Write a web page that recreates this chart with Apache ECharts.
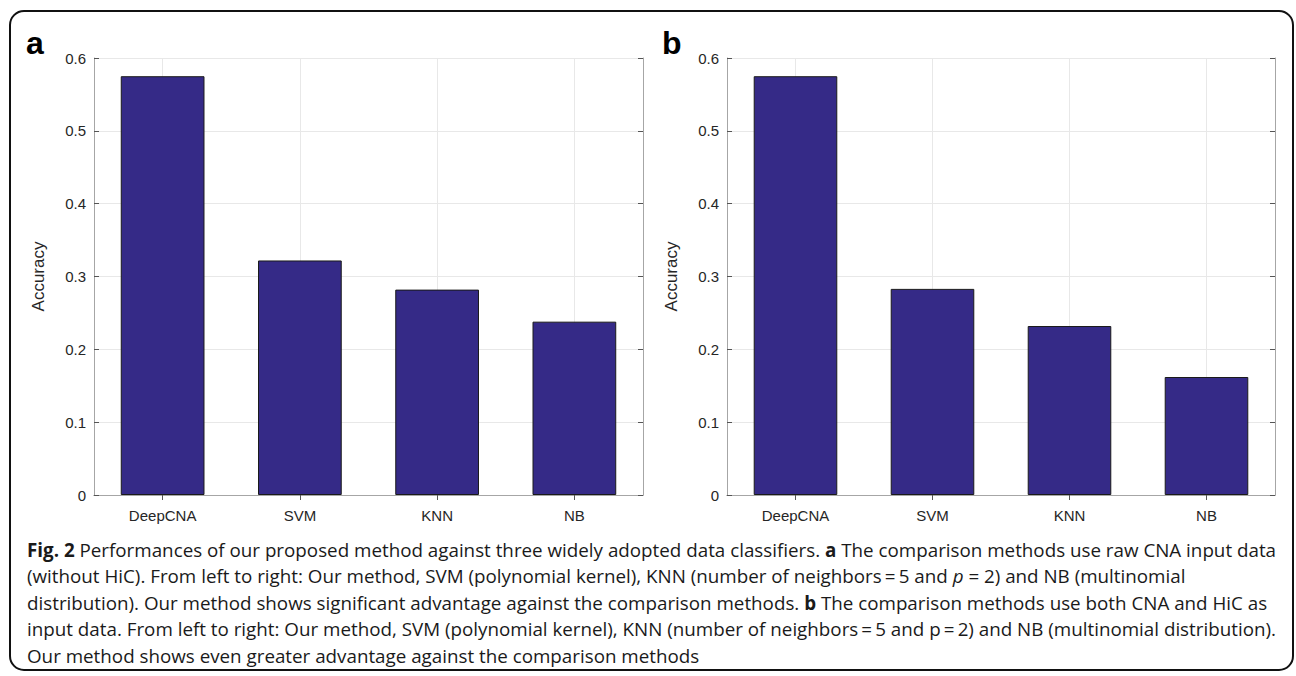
<!DOCTYPE html>
<html>
<head>
<meta charset="utf-8">
<script src="https://cdn.jsdelivr.net/npm/echarts@6/dist/echarts.min.js"></script>
<style>
html,body{margin:0;padding:0;background:#fff;}
#chart{width:1296px;height:676px;}
</style>
</head>
<body>
<div id="chart"></div>
<script>
const categories = ['DeepCNA', 'SVM', 'KNN', 'NB'];
const accuracyA = [0.575, 0.322, 0.282, 0.238];
const accuracyB = [0.575, 0.283, 0.232, 0.162];
const yMin = 0, yMax = 0.6, yInterval = 0.1;
const panelLabels = ['a', 'b'];
const yAxisTitle = 'Accuracy';
const captionLines = [
  '{b|Fig. 2} Performances of our proposed method against three widely adopted data classifiers. {b|a} The comparison methods use raw CNA input data',
  '(without HiC). From left to right: Our method, SVM (polynomial kernel), KNN (number of neighbors\u2009=\u20095 and {i|p} = 2) and NB (multinomial',
  'distribution). Our method shows significant advantage against the comparison methods. {b|b} The comparison methods use both CNA and HiC as',
  'input data. From left to right: Our method, SVM (polynomial kernel), KNN (number of neighbors\u2009=\u20095 and p\u2009=\u20092) and NB (multinomial distribution).',
  'Our method shows even greater advantage against the comparison methods'
];

const AXIS = '#a6a6a6';
const GRIDC = '#e8e8e8';
const TXT = '#262626';
const FONT = '"Liberation Sans", Arial, sans-serif';
const grids = [
  {left: 94, top: 58, width: 549, height: 437},
  {left: 727, top: 58, width: 548, height: 437}
];

const xAxes = [], yAxes = [], series = [];
[accuracyA, accuracyB].forEach((vals, g) => {
  xAxes.push({
    type: 'category', gridIndex: g, data: categories, position: 'bottom',
    axisLine: {show: true, lineStyle: {color: AXIS, width: 1}},
    axisTick: {show: true, inside: true, alignWithLabel: true, length: 5, lineStyle: {color: '#555'}},
    axisLabel: {color: TXT, fontSize: 15, fontFamily: FONT, margin: 13},
    splitLine: {show: true, alignWithLabel: true, lineStyle: {color: GRIDC, width: 1}}
  });
  xAxes.push({
    type: 'category', gridIndex: g, data: categories, position: 'top',
    axisLine: {show: true, lineStyle: {color: AXIS, width: 1}},
    axisTick: {show: true, inside: true, alignWithLabel: true, length: 5, lineStyle: {color: '#555'}},
    axisLabel: {show: false}, splitLine: {show: false}
  });
  yAxes.push({
    type: 'value', gridIndex: g, min: yMin, max: yMax, interval: yInterval, position: 'left',
    name: yAxisTitle, nameLocation: 'middle', nameGap: 47, nameRotate: 90,
    nameTextStyle: {color: TXT, fontSize: 17, fontFamily: FONT},
    axisLine: {show: true, lineStyle: {color: AXIS, width: 1}},
    axisTick: {show: true, inside: true, length: 5, lineStyle: {color: '#555'}},
    axisLabel: {color: TXT, fontSize: 15, fontFamily: FONT, margin: 8},
    splitLine: {show: true, lineStyle: {color: GRIDC, width: 1}}
  });
  yAxes.push({
    type: 'value', gridIndex: g, min: yMin, max: yMax, interval: yInterval, position: 'right',
    axisLine: {show: true, lineStyle: {color: AXIS, width: 1}},
    axisTick: {show: true, inside: true, length: 5, lineStyle: {color: '#555'}},
    axisLabel: {show: false}, splitLine: {show: false}
  });
  series.push({
    type: 'bar', xAxisIndex: g * 2, yAxisIndex: g * 2, data: vals,
    barCategoryGap: '39%', z: 3,
    itemStyle: {color: '#352a87', borderColor: '#1a1a1a', borderWidth: 1},
    silent: true
  });
});

const graphics = [
  {type: 'rect', shape: {x: 10, y: 11, width: 1283, height: 659, r: 14},
   style: {fill: 'none', stroke: '#111', lineWidth: 2}, z: 10},
  {type: 'text', left: 26, top: 27, style: {text: panelLabels[0], font: 'bold 32px ' + FONT, fill: '#000'}},
  {type: 'text', left: 662, top: 27, style: {text: panelLabels[1], font: 'bold 32px ' + FONT, fill: '#000'}}
];
const capFont = '"Open Sans", "Noto Sans", sans-serif';
const CAP = 18.8;
captionLines.forEach((line, i) => {
  graphics.push({
    type: 'text', left: 27, top: 540 + i * 26.5,
    style: {
      text: line, fontSize: CAP, fontFamily: capFont, fill: '#1a1a1a',
      rich: {
        b: {fontWeight: 'bold', fontSize: CAP, fontFamily: capFont, fill: '#1a1a1a'},
        i: {fontStyle: 'italic', fontSize: CAP, fontFamily: capFont, fill: '#1a1a1a'}
      }
    }
  });
});

const chart = echarts.init(document.getElementById('chart'), null, {renderer: 'svg'});
chart.setOption({
  animation: false,
  backgroundColor: '#fff',
  grid: grids,
  xAxis: xAxes,
  yAxis: yAxes,
  series: series,
  graphic: graphics
});
</script>
</body>
</html>
